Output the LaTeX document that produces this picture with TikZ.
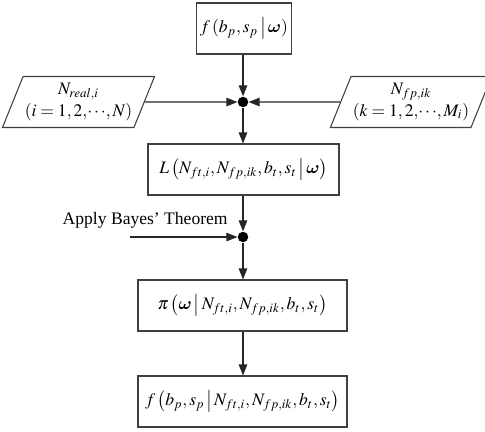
\documentclass[tikz,border=0pt]{standalone}
\usepackage{amsmath}
\usepackage{bm}
\usepackage{mathptmx}
\usepackage{fontspec}
\setmainfont{Liberation Serif}
\usetikzlibrary{arrows.meta, shapes.geometric}

\begin{document}
\begin{tikzpicture}[
    every node/.style={font=\normalsize},
    fbox/.style={
        rectangle, draw=black!75, line width=0.6pt,
        minimum height=1.02cm, inner sep=2pt, align=center
    },
    databox/.style={
        trapezium, trapezium left angle=63, trapezium right angle=117,
        trapezium stretches=true, draw=black!75, line width=0.6pt,
        minimum width=2.78cm, minimum height=1.02cm,
        inner sep=1pt, align=center
    },
    junc/.style={circle, fill=black, inner sep=0pt, minimum size=0.21cm},
    flow/.style={-{Triangle[length=2.2mm,width=1.7mm]}, line width=0.6pt,
        draw=black!85}
]

\useasboundingbox (0,0) rectangle (9.7,-8.62);

%% ── Prior and data ─────────────────────────────────────────────────
\node[fbox, minimum width=1.8cm] (prior) at (4.88,-0.57)
    {$f\left(b_p,s_p\,\middle|\,\bm{\omega}\right)$};

\node[junc] (j1) at (4.86,-2.04) {};

\node[databox] (nreal) at (1.57,-2.04)
    {$N_{real,i}$\\$\left(i=1,2,\!\cdots\!,N\right)$};
\node[databox] (nfp) at (8.22,-2.04)
    {$N_{fp,ik}$\\$\left(k=1,2,\!\cdots\!,M_i\right)$};

%% ── Likelihood ─────────────────────────────────────────────────────
\node[fbox, minimum width=3.82cm] (lik) at (4.87,-3.39)
    {$L\left(N_{ft,i},N_{fp,ik},b_t,s_t\,\middle|\,\bm{\omega}\right)$};

\node[junc] (j2) at (4.86,-4.74) {};
\coordinate (bayes) at (2.6,-4.74);
\node[anchor=base east, inner sep=0pt] (bayestxt) at (4.56,-4.48)
    {Apply Bayes' Theorem};

%% ── Posterior and predictive ───────────────────────────────────────
\node[fbox, minimum width=4.18cm] (post) at (4.85,-6.11)
    {$\pi\left(\bm{\omega}\,\middle|\,N_{ft,i},N_{fp,ik},b_t,s_t\right)$};
\node[fbox, minimum width=4.18cm] (pred) at (4.85,-8.03)
    {$f\left(b_p,s_p\,\middle|\,N_{ft,i},N_{fp,ik},b_t,s_t\right)$};

%% Connectors
\draw[flow] (prior.south -| j1) -- (j1);
\draw[flow] (nreal) -- (j1);
\draw[flow] (nfp) -- (j1);
\draw[flow] (j1) -- (lik.north -| j1);
\draw[flow] (lik.south -| j2) -- (j2);
\draw[flow] (bayes) -- (j2);
\draw[flow] (j2) -- (post.north -| j2);
\draw[flow] (post.south -| j2) -- (pred.north -| j2);

\end{tikzpicture}
\end{document}
